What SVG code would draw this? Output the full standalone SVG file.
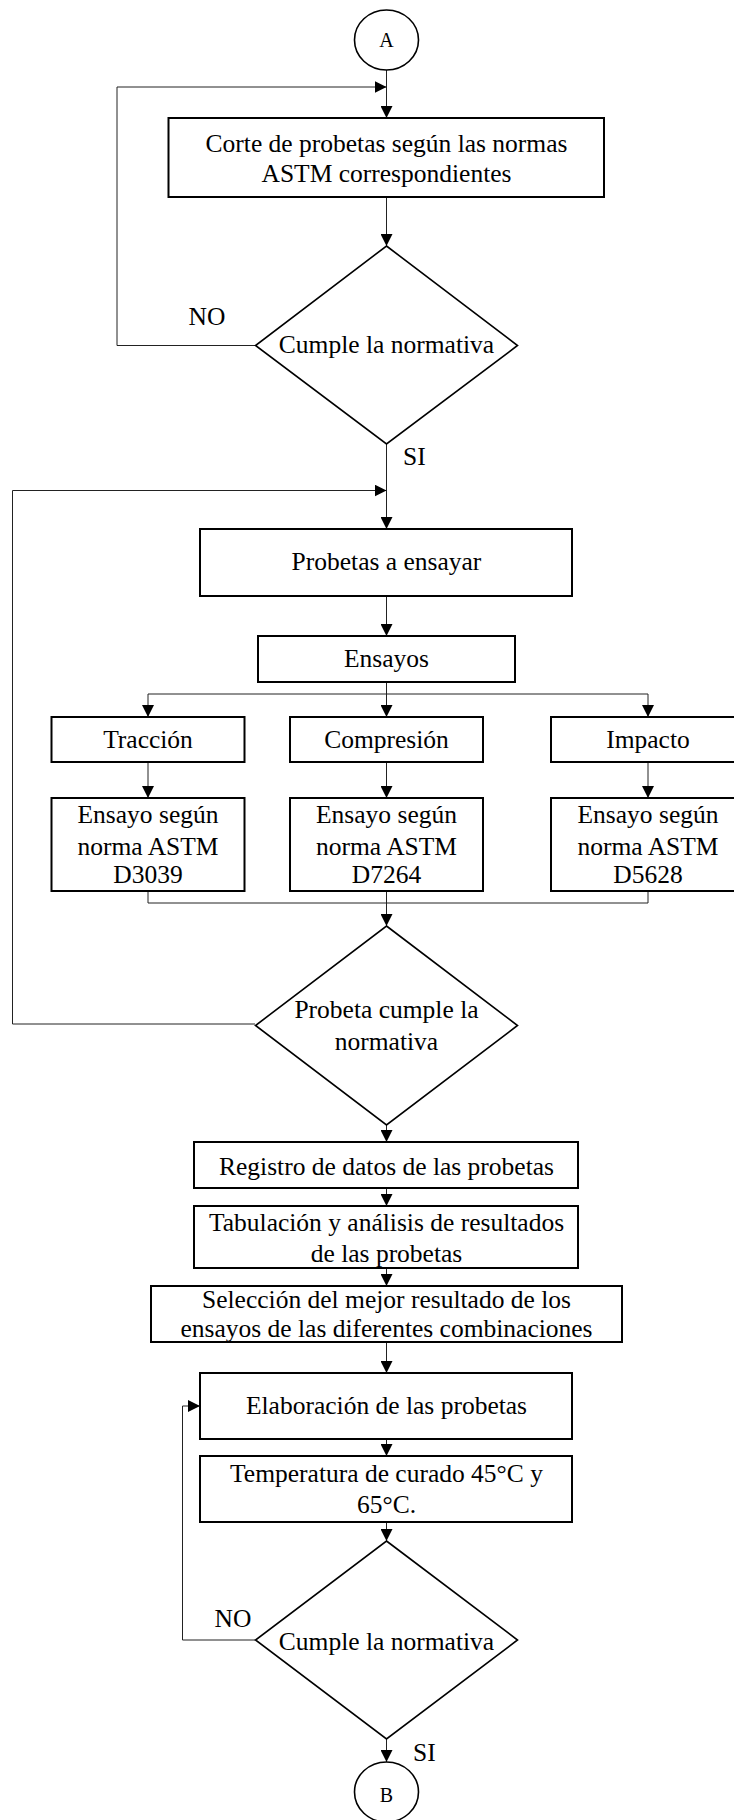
<svg xmlns="http://www.w3.org/2000/svg" width="734" height="1820" viewBox="0 0 734 1820">
<defs>
<marker id="arr" markerUnits="userSpaceOnUse" markerWidth="12" markerHeight="12" refX="12" refY="6" orient="auto">
<path d="M0,0 L12,6 L0,12 Z" fill="#000"/>
</marker>
<style>
.box{fill:#fff;stroke:#000;stroke-width:2}
.dia{fill:#fff;stroke:#000;stroke-width:1.6}
.term{fill:#fff;stroke:#000;stroke-width:1.6}
.c{fill:none;stroke:#222;stroke-width:1}
.ca{fill:none;stroke:#222;stroke-width:1;marker-end:url(#arr)}
text{font-family:"Liberation Serif","Times New Roman",serif;font-size:25.5px;fill:#000;text-anchor:middle}
.lbl{text-anchor:start}
.small{font-size:20px}
</style>
</defs>
<rect width="734" height="1820" fill="#fff"/>
<g id="connectors">
<line class="ca" x1="386.5" y1="70" x2="386.5" y2="118"/>
<line class="ca" x1="386.5" y1="197" x2="386.5" y2="246"/>
<polyline class="ca" points="255,345.5 117,345.5 117,87 386.5,87"/>
<line class="ca" x1="386.5" y1="444" x2="386.5" y2="529"/>
<polyline class="ca" points="255,1024 12.5,1024 12.5,490.5 386.5,490.5"/>
<line class="ca" x1="386.5" y1="596" x2="386.5" y2="636"/>
<line class="c" x1="386.5" y1="682" x2="386.5" y2="694"/>
<line class="c" x1="148" y1="694" x2="648" y2="694"/>
<line class="ca" x1="148" y1="694" x2="148" y2="717"/>
<line class="ca" x1="386.5" y1="694" x2="386.5" y2="717"/>
<line class="ca" x1="648" y1="694" x2="648" y2="717"/>
<line class="ca" x1="148" y1="762" x2="148" y2="798"/>
<line class="ca" x1="386.5" y1="762" x2="386.5" y2="798"/>
<line class="ca" x1="648" y1="762" x2="648" y2="798"/>
<line class="c" x1="148" y1="891" x2="148" y2="903"/>
<line class="c" x1="648" y1="891" x2="648" y2="903"/>
<line class="c" x1="148" y1="903" x2="648" y2="903"/>
<line class="ca" x1="386.5" y1="891" x2="386.5" y2="926"/>
<line class="ca" x1="386.5" y1="1125" x2="386.5" y2="1142"/>
<line class="ca" x1="386.5" y1="1188" x2="386.5" y2="1206"/>
<line class="ca" x1="386.5" y1="1268" x2="386.5" y2="1286"/>
<line class="ca" x1="386.5" y1="1342" x2="386.5" y2="1373"/>
<line class="ca" x1="386.5" y1="1439" x2="386.5" y2="1456"/>
<line class="ca" x1="386.5" y1="1522" x2="386.5" y2="1541"/>
<polyline class="ca" points="255,1640 182.5,1640 182.5,1406 200,1406"/>
<line class="ca" x1="386.5" y1="1739" x2="386.5" y2="1762"/>
<text x="207" y="325">NO</text>
<text class="lbl" x="403" y="465">SI</text>
<text x="233" y="1627">NO</text>
<text class="lbl" x="413" y="1761">SI</text>
</g>
<g id="nodeA">
<ellipse class="term" cx="386.5" cy="40" rx="32" ry="30"/>
<text class="small" x="386.5" y="47">A</text>
</g>
<g id="corte">
<rect class="box" x="168.5" y="118" width="435.5" height="79"/>
<text x="386.5" y="152">Corte de probetas según las normas</text>
<text x="386.5" y="182">ASTM correspondientes</text>
</g>
<g id="cumple1">
<polygon class="dia" points="386.5,246 517.5,345.5 386.5,444 255.5,345.5"/>
<text x="386.5" y="353">Cumple la normativa</text>
</g>
<g id="probetas">
<rect class="box" x="200" y="529" width="372" height="67"/>
<text x="386.5" y="570">Probetas a ensayar</text>
</g>
<g id="ensayos">
<rect class="box" x="258" y="636" width="257" height="46"/>
<text x="386.5" y="667">Ensayos</text>
</g>
<g id="traccion">
<rect class="box" x="51.5" y="717" width="193" height="45"/>
<text x="148" y="748">Tracción</text>
</g>
<g id="compresion">
<rect class="box" x="290" y="717" width="193" height="45"/>
<text x="386.5" y="748">Compresión</text>
</g>
<g id="impacto">
<rect class="box" x="551" y="717" width="194" height="45"/>
<text x="648" y="748">Impacto</text>
</g>
<g id="d3039">
<rect class="box" x="51.5" y="798" width="193" height="93"/>
<text x="148" y="823">Ensayo según</text>
<text x="148" y="855">norma ASTM</text>
<text x="148" y="883">D3039</text>
</g>
<g id="d7264">
<rect class="box" x="290" y="798" width="193" height="93"/>
<text x="386.5" y="823">Ensayo según</text>
<text x="386.5" y="855">norma ASTM</text>
<text x="386.5" y="883">D7264</text>
</g>
<g id="d5628">
<rect class="box" x="551" y="798" width="194" height="93"/>
<text x="648" y="823">Ensayo según</text>
<text x="648" y="855">norma ASTM</text>
<text x="648" y="883">D5628</text>
</g>
<g id="cumple2">
<polygon class="dia" points="386.5,926 517.5,1025.5 386.5,1125 255.5,1025.5"/>
<text x="386.5" y="1018">Probeta cumple la</text>
<text x="386.5" y="1050">normativa</text>
</g>
<g id="registro">
<rect class="box" x="194" y="1142" width="384" height="46"/>
<text x="386.5" y="1175">Registro de datos de las probetas</text>
</g>
<g id="tabulacion">
<rect class="box" x="194" y="1206" width="384" height="62"/>
<text x="386.5" y="1231">Tabulación y análisis de resultados</text>
<text x="386.5" y="1262">de las probetas</text>
</g>
<g id="seleccion">
<rect class="box" x="151" y="1286" width="471" height="56"/>
<text x="386.5" y="1308">Selección del mejor resultado de los</text>
<text x="386.5" y="1337">ensayos de las diferentes combinaciones</text>
</g>
<g id="elaboracion">
<rect class="box" x="200" y="1373" width="372" height="66"/>
<text x="386.5" y="1414">Elaboración de las probetas</text>
</g>
<g id="temperatura">
<rect class="box" x="200" y="1456" width="372" height="66"/>
<text x="386.5" y="1482">Temperatura de curado 45°C y</text>
<text x="386.5" y="1513">65°C.</text>
</g>
<g id="cumple3">
<polygon class="dia" points="386.5,1541 517.5,1640 386.5,1739 255.5,1640"/>
<text x="386.5" y="1650">Cumple la normativa</text>
</g>
<g id="nodeB">
<ellipse class="term" cx="386.5" cy="1792" rx="32" ry="30"/>
<text class="small" x="386.5" y="1802">B</text>
</g>
</svg>
